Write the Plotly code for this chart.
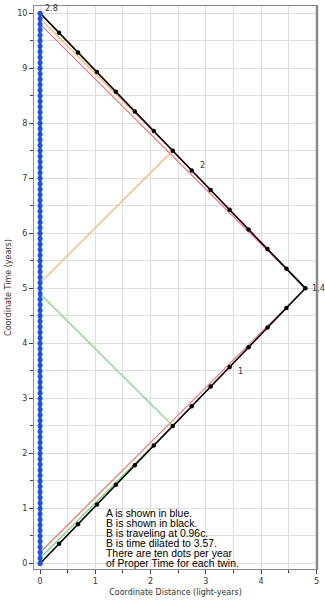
import plotly.graph_objects as go

# Twin A stays home: one dot every 0.1 year of proper time
a_time = [0.0, 0.1, 0.2, 0.3, 0.4, 0.5, 0.6, 0.7, 0.8, 0.9,
          1.0, 1.1, 1.2, 1.3, 1.4, 1.5, 1.6, 1.7, 1.8, 1.9,
          2.0, 2.1, 2.2, 2.3, 2.4, 2.5, 2.6, 2.7, 2.8, 2.9,
          3.0, 3.1, 3.2, 3.3, 3.4, 3.5, 3.6, 3.7, 3.8, 3.9,
          4.0, 4.1, 4.2, 4.3, 4.4, 4.5, 4.6, 4.7, 4.8, 4.9,
          5.0, 5.1, 5.2, 5.3, 5.4, 5.5, 5.6, 5.7, 5.8, 5.9,
          6.0, 6.1, 6.2, 6.3, 6.4, 6.5, 6.6, 6.7, 6.8, 6.9,
          7.0, 7.1, 7.2, 7.3, 7.4, 7.5, 7.6, 7.7, 7.8, 7.9,
          8.0, 8.1, 8.2, 8.3, 8.4, 8.5, 8.6, 8.7, 8.8, 8.9,
          9.0, 9.1, 9.2, 9.3, 9.4, 9.5, 9.6, 9.7, 9.8, 9.9, 10.0]
a_dist = [0.0] * len(a_time)

# Twin B travels out and back at 0.96c: one dot every 0.1 year of proper time
b_dist = [0.0, 0.343, 0.686, 1.029, 1.371, 1.714, 2.057, 2.4, 2.743, 3.086,
          3.429, 3.771, 4.114, 4.457, 4.8,
          4.457, 4.114, 3.771, 3.429, 3.086, 2.743, 2.4, 2.057, 1.714,
          1.371, 1.029, 0.686, 0.343, 0.0]
b_time = [0.0, 0.357, 0.714, 1.071, 1.429, 1.786, 2.143, 2.5, 2.857, 3.214,
          3.571, 3.929, 4.286, 4.643, 5.0,
          5.357, 5.714, 6.071, 6.429, 6.786, 7.143, 7.5, 7.857, 8.214,
          8.571, 8.929, 9.286, 9.643, 10.0]

# Light signals exchanged between the twins
red_dist = [0.0, 4.8, 0.0]
red_time = [0.2, 5.0, 9.8]
green_dist = [0.0, 2.4, 0.0]
green_time = [0.1, 2.5, 4.9]
orange_dist = [0.0, 2.4, 0.0]
orange_time = [5.1, 7.5, 9.9]

# Proper-time labels on B's worldline
lbl_dist = [3.429, 4.8, 2.743, 0.0]
lbl_time = [3.571, 5.0, 7.143, 10.0]
lbl_text = ["1", "1.4", "2", "2.8"]
lbl_shift = [(6, -5), (5, 0), (6, 5), (3, 5)]

notes = ["A is shown in blue.",
         "B is shown in black.",
         "B is traveling at 0.96c.",
         "B is time dilated to 3.57.",
         "There are ten dots per year",
         "of Proper Time for each twin."]

x_ticks = [0, 1, 2, 3, 4, 5]
y_ticks = [0, 1, 2, 3, 4, 5, 6, 7, 8, 9, 10]

fig = go.Figure()

fig.add_trace(go.Scatter(x=red_dist, y=red_time, mode="lines",
                         line=dict(color="#ff7070", width=1.2), hoverinfo="skip"))
fig.add_trace(go.Scatter(x=green_dist, y=green_time, mode="lines",
                         line=dict(color="#6fd86f", width=1.2), hoverinfo="skip"))
fig.add_trace(go.Scatter(x=orange_dist, y=orange_time, mode="lines",
                         line=dict(color="#ffb060", width=1.2), hoverinfo="skip"))
fig.add_trace(go.Scatter(x=b_dist, y=b_time, mode="lines+markers",
                         line=dict(color="black", width=1.6),
                         marker=dict(color="black", size=4.5, symbol="circle")))
fig.add_trace(go.Scatter(x=a_dist, y=a_time, mode="lines+markers",
                         line=dict(color="#1a50ec", width=3),
                         marker=dict(color="#1a50ec", size=5, symbol="circle")))

for xd, yd, txt, (dx, dy) in zip(lbl_dist, lbl_time, lbl_text, lbl_shift):
    fig.add_annotation(x=xd, y=yd, xref="x", yref="y", text=txt, showarrow=False,
                       xanchor="left", yanchor="middle", xshift=dx, yshift=dy,
                       font=dict(family="DejaVu Sans", size=8, color="#333333"))

for i, line in enumerate(notes):
    fig.add_annotation(x=1.15, y=0.915 - i * 0.183, xref="x", yref="y",
                       text=line, showarrow=False, xanchor="left", yanchor="middle",
                       font=dict(family="Liberation Sans, Arial", size=10.4, color="#000000"))

axis_common = dict(
    showgrid=True, gridcolor="#dedede", gridwidth=1,
    zeroline=False,
    showline=True, linecolor="#8a8a8a", linewidth=1, mirror=True,
    ticks="outside", ticklen=4, tickcolor="#444444",
    tickfont=dict(family="DejaVu Sans", size=8, color="#333333"),
    minor=dict(dtick=0.5, ticks="outside", ticklen=3, tickcolor="#444444",
               showgrid=True, gridcolor="#dedede"),
)

fig.update_xaxes(range=[-0.11, 5.01], tickvals=x_ticks,
                 title=dict(text="Coordinate Distance (light-years)", standoff=4,
                            font=dict(family="DejaVu Sans", size=8, color="#333333")),
                 **axis_common)
fig.update_yaxes(range=[-0.1, 10.13], tickvals=y_ticks,
                 title=dict(text="Coordinate Time (years)", standoff=4,
                            font=dict(family="DejaVu Sans", size=8, color="#333333")),
                 **axis_common)

# heavier right-hand frame edge
fig.add_shape(type="line", xref="paper", yref="paper", x0=1, x1=1, y0=0, y1=1,
              line=dict(color="#8a8a8a", width=2.5))

fig.update_layout(
    width=325, height=600,
    margin=dict(l=34, r=8, t=5, b=29),
    plot_bgcolor="white", paper_bgcolor="white",
    showlegend=False,
)

fig.write_html("out.html")
